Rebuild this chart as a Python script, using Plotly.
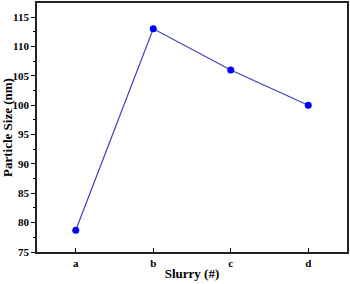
import plotly.graph_objects as go

categories = ["a", "b", "c", "d"]
particle_size = [78.7, 113.0, 106.0, 100.0]

fig = go.Figure()
fig.add_trace(go.Scatter(
    x=list(range(len(categories))), y=particle_size,
    mode="lines+markers",
    line=dict(color="#4040b8", width=1.2),
    marker=dict(color="#0000ff", size=7, symbol="circle"),
))

font_family = "Liberation Serif"
fig.update_layout(
    width=350, height=284,
    margin=dict(l=37, r=3, t=3, b=32),
    paper_bgcolor="white", plot_bgcolor="white",
    showlegend=False,
    font=dict(family=font_family, color="black"),
)
fig.update_xaxes(
    range=[-0.5, 3.5], automargin=False,
    tickmode="array", tickvals=list(range(len(categories))), ticktext=categories,
    ticks="inside", ticklen=4, tickwidth=1, tickcolor="black",
    showline=True, linecolor="#222222", linewidth=1.6, mirror=True,
    showgrid=False, zeroline=False,
    tickfont=dict(family=font_family, size=11, color="black", weight="bold"),
    title=dict(text="<b>Slurry (#)</b>", font=dict(family=font_family, size=13), standoff=1),
)
fig.update_yaxes(
    range=[75, 117.4], automargin=False,
    tickmode="array", tickvals=[75, 80, 85, 90, 95, 100, 105, 110, 115],
    ticks="outside", ticklen=4, tickwidth=1, tickcolor="black",
    minor=dict(tickvals=[77.5, 82.5, 87.5, 92.5, 97.5, 102.5, 107.5, 112.5, 117.5],
               ticks="outside", ticklen=2, tickcolor="black"),
    showline=True, linecolor="#222222", linewidth=1.6, mirror=True,
    showgrid=False, zeroline=False,
    tickfont=dict(family=font_family, size=11, color="black", weight="bold"),
    title=dict(text="<b>Particle Size (nm)</b>", font=dict(family=font_family, size=13), standoff=1),
)

fig.write_html(
    "out.html",
    config={"displayModeBar": False},
    post_script="document.body.style.margin='0';document.body.style.overflow='hidden';",
)
